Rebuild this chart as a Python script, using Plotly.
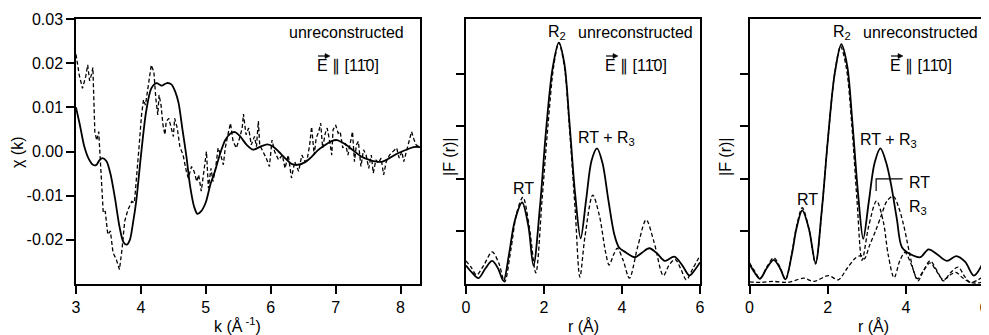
import plotly.graph_objects as go

# ---------------- data ----------------
# Left panel: chi(k)
k_fit = [3.00, 3.06, 3.13, 3.20, 3.26, 3.31, 3.36, 3.41, 3.47, 3.53, 3.60, 3.67, 3.73, 3.78, 3.83, 3.88,
         3.93, 4.00, 4.08, 4.16, 4.24, 4.32, 4.40, 4.47, 4.53, 4.58, 4.64, 4.70, 4.76, 4.82, 4.87, 4.93,
         5.00, 5.07, 5.14, 5.22, 5.30, 5.38, 5.45, 5.53, 5.63, 5.73, 5.84, 5.95, 6.04, 6.12, 6.22, 6.32,
         6.42, 6.53, 6.63, 6.72, 6.82, 6.93, 7.02, 7.13, 7.26, 7.39, 7.52, 7.63, 7.72, 7.83, 7.96, 8.09,
         8.20, 8.30]
chi_fit = [0.0100, 0.0060, 0.0010, -0.0018, -0.0030, -0.0031, -0.0020, -0.0015, -0.0022, -0.0050,
           -0.0105, -0.0170, -0.0205, -0.0211, -0.0200, -0.0160, -0.0110, -0.0010, 0.0090, 0.0143,
           0.0155, 0.0149, 0.0155, 0.0152, 0.0135, 0.0110, 0.0050, -0.0010, -0.0080, -0.0125, -0.0141,
           -0.0135, -0.0115, -0.0075, -0.0045, -0.0005, 0.0026, 0.0041, 0.0044, 0.0034, 0.0015, 0.0004,
           0.0011, 0.0016, 0.0011, 0.0000, -0.0015, -0.0028, -0.0030, -0.0024, -0.0012, 0.0002, 0.0013,
           0.0023, 0.0026, 0.0018, 0.0004, -0.0011, -0.0019, -0.0023, -0.0023, -0.0015, -0.0004, 0.0004,
           0.0010, 0.0010]

k_exp = [3.00, 3.05, 3.10, 3.15, 3.18, 3.21, 3.24, 3.26, 3.29, 3.32, 3.35, 3.38, 3.42, 3.45, 3.49, 3.53,
         3.57, 3.62, 3.67, 3.71, 3.75, 3.80, 3.86, 3.90, 3.94, 3.97, 4.01, 4.04, 4.07, 4.11, 4.16, 4.20,
         4.23, 4.26, 4.28, 4.31, 4.34, 4.37, 4.39, 4.43, 4.47, 4.50, 4.52, 4.56, 4.60, 4.65, 4.70, 4.73,
         4.78, 4.82, 4.86, 4.89, 4.93, 4.97, 5.01, 5.04, 5.08, 5.11, 5.15, 5.19, 5.23, 5.27, 5.30, 5.34,
         5.38, 5.42, 5.47, 5.52, 5.56, 5.58, 5.62, 5.66, 5.70, 5.75, 5.78, 5.81, 5.83, 5.88, 5.93, 5.98,
         6.02, 6.06, 6.12, 6.18, 6.22, 6.27, 6.32, 6.37, 6.43, 6.48, 6.53, 6.56, 6.60, 6.63, 6.67, 6.70,
         6.74, 6.77, 6.80, 6.84, 6.87, 6.90, 6.94, 6.96, 7.00, 7.04, 7.07, 7.11, 7.15, 7.19, 7.22, 7.26,
         7.29, 7.32, 7.35, 7.39, 7.43, 7.47, 7.51, 7.55, 7.58, 7.62, 7.66, 7.70, 7.74, 7.78, 7.83, 7.88,
         7.94, 7.98, 8.02, 8.05, 8.09, 8.13, 8.17, 8.21, 8.24, 8.28, 8.30]
chi_exp = [0.0220, 0.0173, 0.0143, 0.0170, 0.0196, 0.0160, 0.0175, 0.0190, 0.0045, 0.0025, 0.0045,
           -0.0023, -0.0139, -0.0135, -0.0188, -0.0180, -0.0229, -0.0244, -0.0267, -0.0220, -0.0158,
           -0.0132, -0.0113, -0.0116, -0.0053, 0.0008, 0.0083, 0.0117, 0.0105, 0.0143, 0.0196, 0.0180,
           0.0120, 0.0083, 0.0128, 0.0105, 0.0060, 0.0038, 0.0068, 0.0075, 0.0053, 0.0034, 0.0075,
           0.0053, 0.0011, -0.0008, -0.0045, -0.0060, -0.0034, -0.0045, -0.0068, -0.0053, -0.0090,
           -0.0045, 0.0000, -0.0083, -0.0038, -0.0068, -0.0038, 0.0008, -0.0008, -0.0030, 0.0008,
           0.0038, 0.0064, 0.0023, 0.0008, 0.0030, 0.0053, 0.0085, 0.0038, 0.0053, 0.0015, 0.0034,
           0.0011, 0.0069, 0.0015, 0.0000, -0.0015, -0.0034, 0.0026, 0.0000, -0.0019, -0.0008, -0.0038,
           -0.0008, -0.0060, -0.0023, -0.0045, -0.0008, -0.0023, -0.0019, 0.0015, 0.0056, -0.0008,
           0.0030, 0.0045, 0.0064, 0.0008, 0.0041, 0.0053, 0.0030, -0.0008, 0.0049, 0.0060, 0.0041,
           0.0045, 0.0008, 0.0019, -0.0008, 0.0015, 0.0045, -0.0023, 0.0015, 0.0023, -0.0034, 0.0004,
           -0.0008, -0.0038, -0.0008, -0.0049, -0.0019, -0.0026, -0.0015, -0.0053, -0.0023, -0.0008,
           0.0000, 0.0008, -0.0015, 0.0000, -0.0023, 0.0000, 0.0023, 0.0045, 0.0026, 0.0015, 0.0011,
           0.0008]

# Middle panel: |F(r)|
r_mid_fit = [0.00, 0.15, 0.32, 0.50, 0.67, 0.82, 0.96, 1.10, 1.25, 1.44, 1.60, 1.73, 1.90, 2.05, 2.22,
             2.38, 2.52, 2.65, 2.80, 2.94, 3.08, 3.22, 3.36, 3.50, 3.65, 3.80, 3.92, 4.10, 4.33, 4.52,
             4.70, 4.90, 5.10, 5.34, 5.55, 5.73, 5.88, 6.00]
F_mid_fit = [0.35, 0.22, 0.11, 0.30, 0.44, 0.30, 0.06, 0.55, 1.20, 1.55, 1.10, 0.35, 1.50, 2.90, 4.10,
             4.59, 4.20, 3.10, 1.70, 0.87, 1.60, 2.35, 2.58, 2.30, 1.60, 0.95, 0.70, 0.60, 0.51, 0.60,
             0.68, 0.58, 0.44, 0.52, 0.35, 0.16, 0.28, 0.41]
r_mid_exp = [0.00, 0.13, 0.27, 0.45, 0.67, 0.84, 0.99, 1.15, 1.30, 1.46, 1.62, 1.79, 1.95, 2.10, 2.25,
             2.38, 2.52, 2.65, 2.80, 2.92, 3.05, 3.25, 3.42, 3.58, 3.67, 3.78, 3.88, 4.03, 4.19, 4.40,
             4.62, 4.82, 5.06, 5.20, 5.36, 5.50, 5.65, 5.82, 6.00]
F_mid_exp = [0.44, 0.32, 0.17, 0.35, 0.61, 0.40, 0.04, 0.65, 1.35, 1.65, 1.10, 0.21, 1.60, 3.00, 4.15,
             4.59, 4.15, 3.00, 1.40, 0.13, 0.90, 1.69, 1.30, 0.60, 0.36, 0.55, 0.68, 0.45, 0.11, 0.70,
             1.22, 0.80, 0.16, 0.35, 0.47, 0.30, 0.08, 0.30, 0.54]

# Right panel: |F(r)| total and components
r_right_fit = [0.00, 0.13, 0.27, 0.44, 0.62, 0.78, 0.92, 1.08, 1.20, 1.35, 1.52, 1.69, 1.85, 2.00, 2.18,
               2.35, 2.50, 2.63, 2.78, 2.91, 3.05, 3.20, 3.35, 3.50, 3.62, 3.77, 3.90, 4.11, 4.37, 4.58,
               4.79, 5.05, 5.29, 5.52, 5.74, 6.00]
F_right_fit = [0.38, 0.22, 0.10, 0.30, 0.46, 0.30, 0.09, 0.55, 1.05, 1.40, 1.05, 0.40, 1.40, 2.70, 4.00,
               4.56, 4.15, 3.10, 1.70, 0.86, 1.55, 2.30, 2.58, 2.30, 1.90, 1.24, 0.70, 0.57, 0.51, 0.66,
               0.57, 0.44, 0.53, 0.42, 0.16, 0.44]
r_rt = [0.00, 0.13, 0.27, 0.44, 0.62, 0.78, 0.92, 1.08, 1.20, 1.35, 1.52, 1.69, 1.85, 2.00, 2.18, 2.33,
        2.48, 2.62, 2.75, 2.88, 3.05, 3.25, 3.42, 3.55, 3.70, 3.85, 3.98, 4.15, 4.31, 4.45, 4.62, 4.80,
        4.96, 5.15, 5.34, 5.50, 5.65, 5.85, 6.00]
F_rt = [0.40, 0.25, 0.10, 0.32, 0.50, 0.32, 0.08, 0.57, 1.08, 1.45, 1.05, 0.38, 1.40, 2.70, 4.00, 4.52,
        4.10, 3.00, 1.60, 0.45, 1.10, 1.58, 1.20, 0.55, 0.12, 0.45, 0.60, 0.35, 0.06, 0.25, 0.44, 0.25,
        0.06, 0.22, 0.32, 0.15, 0.03, 0.08, 0.16]
r_r3 = [0.00, 0.30, 0.60, 0.90, 1.05, 1.38, 1.65, 2.02, 2.27, 2.50, 2.72, 2.86, 2.94, 3.07, 3.22, 3.37,
        3.52, 3.68, 3.82, 3.95, 4.09, 4.20, 4.30, 4.45, 4.62, 4.78, 4.96, 5.15, 5.28, 5.45, 5.65, 5.85,
        6.00]
F_r3 = [0.04, 0.03, 0.05, 0.03, 0.04, 0.11, 0.05, 0.16, 0.08, 0.30, 0.50, 0.54, 0.48, 0.73, 1.00, 1.30,
        1.58, 1.67, 1.45, 1.10, 0.60, 0.25, 0.10, 0.25, 0.40, 0.25, 0.08, 0.18, 0.22, 0.12, 0.03, 0.02,
        0.05]

chi_ticks = [-0.02, -0.01, 0.00, 0.01, 0.02, 0.03]
chi_ticktext = ["-0.02", "-0.01", "0.00", "0.01", "0.02", "0.03"]
k_ticks = [3, 4, 5, 6, 7, 8]
r_ticks = [0, 2, 4, 6]
F_ticks = [1, 2, 3, 4]

# ---------------- figure ----------------
W, H = 989, 335
OX, OY = 8, 8          # the page draws the figure 8 px in from the window corner
FONT = "Arial, Liberation Sans, Helvetica, sans-serif"
SOLID = dict(color="black", width=1.8)
DASH = dict(color="black", width=1.3, dash="4px,2.5px")

fig = go.Figure()
fig.add_trace(go.Scatter(x=k_fit, y=chi_fit, mode="lines", line=dict(**SOLID, shape="spline", smoothing=0.8),
                         xaxis="x", yaxis="y"))
fig.add_trace(go.Scatter(x=k_exp, y=chi_exp, mode="lines", line=DASH, xaxis="x", yaxis="y"))

fig.add_trace(go.Scatter(x=r_mid_fit, y=F_mid_fit, mode="lines",
                         line=dict(**SOLID, shape="spline", smoothing=0.9), xaxis="x2", yaxis="y2"))
fig.add_trace(go.Scatter(x=r_mid_exp, y=F_mid_exp, mode="lines",
                         line=dict(**DASH, shape="spline", smoothing=0.9), xaxis="x2", yaxis="y2"))

fig.add_trace(go.Scatter(x=r_right_fit, y=F_right_fit, mode="lines",
                         line=dict(**SOLID, shape="spline", smoothing=0.9), xaxis="x3", yaxis="y3"))
fig.add_trace(go.Scatter(x=r_rt, y=F_rt, mode="lines",
                         line=dict(**DASH, shape="spline", smoothing=0.9), xaxis="x3", yaxis="y3"))
fig.add_trace(go.Scatter(x=r_r3, y=F_r3, mode="lines",
                         line=dict(**DASH, shape="spline", smoothing=0.9), xaxis="x3", yaxis="y3"))


def px(x):
    return (x - OX) / W


def py(y):
    return 1 - (y - OY) / H


ydom = [py(284), py(19)]
common = dict(showline=True, mirror=True, linecolor="black", linewidth=1.5, ticks="outside",
              ticklen=8, tickwidth=1.5, tickcolor="black", showgrid=False, zeroline=False,
              automargin=False, tickfont=dict(family=FONT, size=16, color="black"))

fig.update_layout(
    template="none",
    width=W, height=H, margin=dict(l=0, r=0, t=0, b=0, pad=0, autoexpand=False),
    paper_bgcolor="white", plot_bgcolor="white", showlegend=False,
    font=dict(family=FONT, size=16, color="black"),
    xaxis=dict(domain=[px(76), px(420)], range=[3, 8.3], tickvals=k_ticks, anchor="y", **common),
    yaxis=dict(domain=ydom, range=[-0.03, 0.03], tickvals=chi_ticks, ticktext=chi_ticktext,
               anchor="x", **common),
    xaxis2=dict(domain=[px(466), px(700)], range=[0, 6], tickvals=r_ticks, anchor="y2", **common),
    yaxis2=dict(domain=ydom, range=[0, 5.04], tickvals=F_ticks, showticklabels=False, anchor="x2", **common),
    xaxis3=dict(domain=[px(749.5), px(984)], range=[0, 6], tickvals=r_ticks, anchor="y3", **common),
    yaxis3=dict(domain=ydom, range=[0, 5.04], tickvals=F_ticks, showticklabels=False, anchor="x3", **common),
)

ann = []
shapes = []


def text(x, y, s, xanchor="center", size=16, angle=0):
    ann.append(dict(x=px(x), y=py(y), xref="paper", yref="paper", text=s, showarrow=False,
                    xanchor=xanchor, yanchor="middle", textangle=angle,
                    font=dict(family=FONT, size=size, color="black")))


def earrow(x0, x1, y):
    # vector arrow above the "E"
    shapes.append(dict(type="line", xref="paper", yref="paper", x0=px(x0), x1=px(x1 - 3),
                       y0=py(y), y1=py(y), line=dict(color="black", width=1.2)))
    shapes.append(dict(type="path", xref="paper", yref="paper",
                       path=f"M {px(x1)},{py(y)} L {px(x1 - 5)},{py(y - 2.5)} L {px(x1 - 5)},{py(y + 2.5)} Z",
                       fillcolor="black", line=dict(color="black", width=0.5)))


EPAR = "E \u2225 [11\u03040]"

# left panel
text(406, 33, "unreconstructed", xanchor="right")
text(348, 66, EPAR)
earrow(318, 330, 56)
text(17, 152, "\u03c7 (k)", angle=-90)
text(237, 325, "k (\u00c5<sup> -1</sup>)")

# middle panel
text(557, 33, "R<sub>2</sub>")
text(695, 33, "unreconstructed", xanchor="right")
text(636, 66, EPAR)
earrow(606, 618, 56)
text(606, 138, "RT + R<sub>3</sub>")
text(523, 188, "RT")
text(449, 157, "|F (r)|", angle=-90)
text(583, 326, "r (\u00c5)")

# right panel
text(842, 33, "R<sub>2</sub>")
text(980, 33, "unreconstructed", xanchor="right")
text(921, 66, EPAR)
earrow(891, 903, 56)
text(888, 140, "RT + R<sub>3</sub>")
text(807, 199, "RT")
text(907, 182, "RT", xanchor="left")
text(907, 207, "R<sub>3</sub>", xanchor="left")
text(725, 157, "|F (r)|", angle=-90)
text(873, 326, "r (\u00c5)")

# bracket pointing to the RT component
shapes.append(dict(type="path", path="M 3.24,1.77 L 3.24,2.0 L 3.92,2.0", xref="x3", yref="y3",
                   line=dict(color="black", width=1.2)))

fig.update_layout(annotations=ann, shapes=shapes)

fig.write_html("out.html")
